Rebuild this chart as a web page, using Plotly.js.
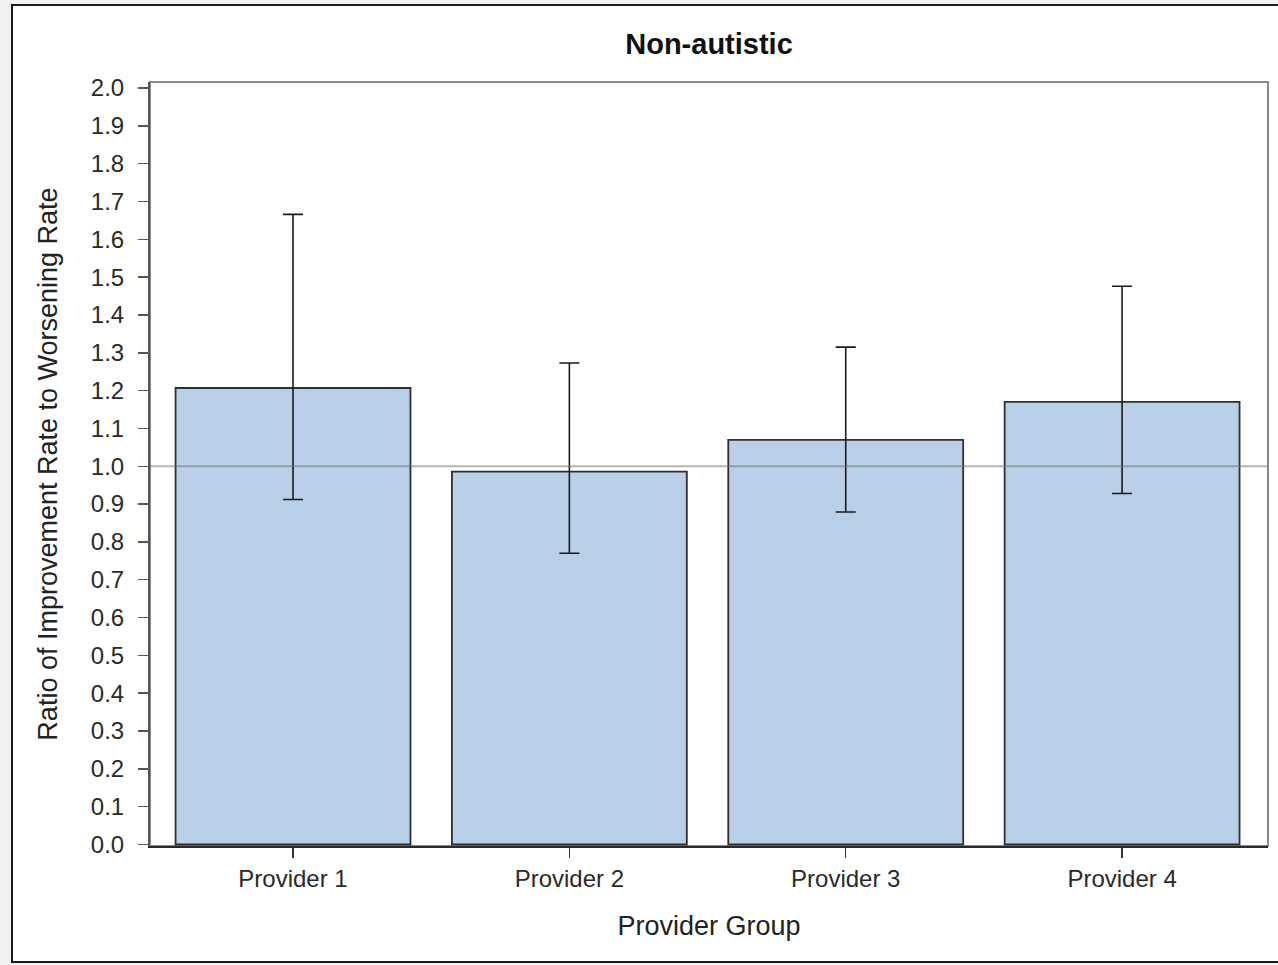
<!DOCTYPE html>
<html>
<head>
<meta charset="utf-8">
<script src="https://cdn.plot.ly/plotly-3.0.1.min.js"></script>
<style>
  html, body { margin: 0; padding: 0; background: #f2f2f2; width: 1278px; height: 965px; overflow: hidden; }
  #frame { position: absolute; left: 11px; top: 4px; width: 1300px; height: 955px; background: #ffffff; border: 2px solid #1a1a1a; }
  #chart { position: absolute; left: 0; top: 0; width: 1278px; height: 965px; }
</style>
</head>
<body>
<div id="frame"></div>
<div id="chart"></div>
<script>
const categories = ["Provider 1", "Provider 2", "Provider 3", "Provider 4"];
const ratios = [1.207, 0.986, 1.070, 1.170];
const lowerCI = [0.912, 0.770, 0.879, 0.928];
const upperCI = [1.666, 1.273, 1.315, 1.476];
const yTickVals = [0.0,0.1,0.2,0.3,0.4,0.5,0.6,0.7,0.8,0.9,1.0,1.1,1.2,1.3,1.4,1.5,1.6,1.7,1.8,1.9,2.0];
const referenceValue = 1.0;

const font = "Liberation Sans, Arial, Helvetica, sans-serif";

const bars = {
  type: "bar",
  x: categories,
  y: ratios,
  marker: { color: "#b9cee7", line: { color: "#2f2f2f", width: 1.8 } },
  error_y: {
    type: "data",
    symmetric: false,
    array: upperCI.map((u, i) => u - ratios[i]),
    arrayminus: ratios.map((v, i) => v - lowerCI[i]),
    color: "#1a1a1a",
    thickness: 1.6,
    width: 10
  },
  hoverinfo: "x+y"
};

const layout = {
  width: 1278,
  height: 965,
  paper_bgcolor: "rgba(0,0,0,0)",
  plot_bgcolor: "#ffffff",
  margin: { l: 150, r: 10, t: 82, b: 119 },
  showlegend: false,
  bargap: 0.15,
  font: { family: font, color: "#222222" },
  title: {
    text: "<b>Non-autistic</b>",
    font: { family: font, size: 29, color: "#111111" },
    x: 0.5, xref: "paper", xanchor: "center",
    y: 0.955, yref: "container", yanchor: "middle"
  },
  xaxis: {
    type: "category",
    range: [-0.5175, 3.528],
    showline: true, linecolor: "#2a2a2a", linewidth: 2,
    ticks: "outside", ticklen: 10, tickwidth: 1.5, tickcolor: "#333333",
    tickfont: { family: font, size: 24, color: "#2a2a2a" },
    showgrid: false, zeroline: false,
    title: { text: "Provider Group", font: { family: font, size: 27, color: "#222222" }, standoff: 25 }
  },
  yaxis: {
    range: [-0.004, 2.016],
    tickvals: yTickVals,
    tickformat: ".1f",
    showline: true, linecolor: "#555555", linewidth: 2,
    ticks: "outside", ticklen: 10, tickwidth: 1.5, tickcolor: "#555555",
    ticklabelstandoff: 9,
    tickfont: { family: font, size: 24, color: "#2a2a2a" },
    showgrid: false, zeroline: false,
    title: { text: "Ratio of Improvement Rate to Worsening Rate", font: { family: font, size: 27, color: "#222222" }, standoff: 25 }
  },
  shapes: [
    { type: "rect", xref: "paper", yref: "paper", x0: 0, x1: 1, y0: 0, y1: 1,
      line: { color: "#8a8a8a", width: 2 }, layer: "below" },
    { type: "line", xref: "paper", yref: "y", x0: 0, x1: 1, y0: referenceValue, y1: referenceValue,
      line: { color: "rgba(110,110,110,0.5)", width: 2 }, layer: "above" }
  ]
};

Plotly.newPlot("chart", [bars], layout, { displayModeBar: false, staticPlot: true });
</script>
</body>
</html>
